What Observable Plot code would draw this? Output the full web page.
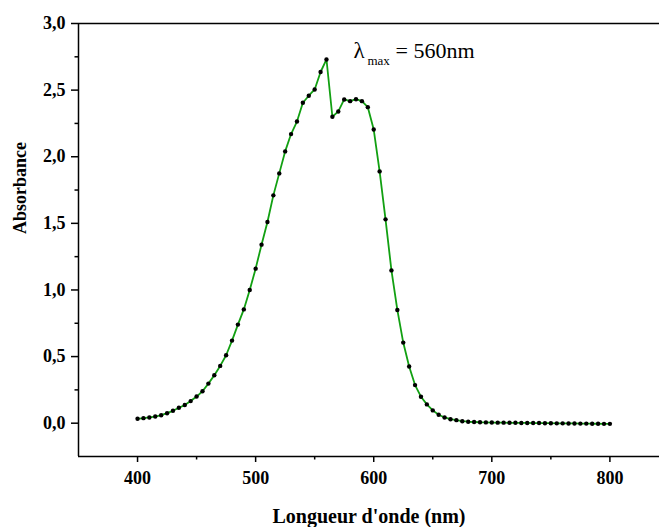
<!DOCTYPE html>
<html><head><meta charset="utf-8">
<script src="https://cdn.jsdelivr.net/npm/d3@7"></script>
<script src="https://cdn.jsdelivr.net/npm/@observablehq/plot@0.6"></script>
<style>body{margin:0;background:#fff} svg{display:block} svg text{font-family:"Liberation Serif","Times New Roman",serif}</style>
</head><body><div id="chart"></div>
<script>
const wavelength = [400,405,410,415,420,425,430,435,440,445,450,455,460,465,470,475,480,485,490,495,
  500,505,510,515,520,525,530,535,540,545,550,555,560,565,570,575,580,585,590,595,
  600,605,610,615,620,625,630,635,640,645,650,655,660,665,670,675,680,685,690,695,
  700,705,710,715,720,725,730,735,740,745,750,755,760,765,770,775,780,785,790,795,800];
const absorbance = [0.033,0.038,0.043,0.050,0.060,0.075,0.093,0.116,0.136,0.166,0.200,0.240,0.297,0.360,0.430,0.510,0.620,0.740,0.854,1.000,
  1.160,1.340,1.510,1.710,1.875,2.040,2.170,2.264,2.405,2.458,2.505,2.636,2.730,2.300,2.340,2.430,2.417,2.432,2.417,2.372,
  2.204,1.890,1.530,1.147,0.850,0.605,0.425,0.286,0.199,0.141,0.096,0.063,0.043,0.030,0.023,0.015,0.011,0.009,0.007,0.006,
  0.005,0.004,0.004,0.003,0.003,0.002,0.002,0.001,0.001,0.000,0.000,-0.001,-0.001,-0.002,-0.002,-0.003,-0.003,-0.004,-0.004,-0.005,-0.005];
const xTicks = [400,500,600,700,800];
const xMinorTicks = [450,550,650,750];
const yTicks = [0,0.5,1,1.5,2,2.5,3];
const yMinorTicks = [0.25,0.75,1.25,1.75,2.25,2.75];
const xTitle = "Longueur d'onde (nm)";
const yTitle = "Absorbance";
const peakWavelength = 560;
const peakAbsorbance = 2.73;

const data = wavelength.map((w, i) => ({w, a: absorbance[i]}));
const font = "Liberation Serif";
const fmt = d => d.toFixed(1).replace(".", ",");

const chart = Plot.plot({
  width: 659, height: 527,
  marginLeft: 78, marginTop: 23, marginBottom: 71, marginRight: 0,
  style: {fontFamily: font, background: "#fff", overflow: "visible"},
  x: {domain: [350, 842]},
  y: {domain: [-0.25, 3]},
  marks: [
    Plot.ruleX([350], {stroke: "#000", strokeWidth: 1.5}),
    Plot.ruleY([-0.25], {stroke: "#000", strokeWidth: 1.5}),
    Plot.ruleY([3], {stroke: "#000", strokeWidth: 1.5}),
    Plot.axisX({ticks: xTicks, tickSize: 6, tickPadding: 9, strokeWidth: 1.5, tickFormat: d => String(d), fontFamily: font, fontSize: 18, fontWeight: "bold", label: null}),
    Plot.axisX({ticks: xMinorTicks, tickSize: 3.5, strokeWidth: 1.5, text: null, label: null}),
    Plot.axisY({ticks: yTicks, tickSize: 7, tickPadding: 6, strokeWidth: 1.5, tickFormat: fmt, fontFamily: font, fontSize: 18, fontWeight: "bold", label: null}),
    Plot.axisY({ticks: yMinorTicks, tickSize: 3.5, strokeWidth: 1.5, text: null, label: null}),
    Plot.line(data, {x: "w", y: "a", stroke: "#12a012", strokeWidth: 1.8}),
    Plot.dot(data, {x: "w", y: "a", r: 2.2, fill: "#000", stroke: "none"}),
    Plot.text([xTitle], {frameAnchor: "bottom", lineAnchor: "bottom", dy: 66, fontFamily: font, fontSize: 20, fontWeight: "bold", fill: "#000"}),
    Plot.text([yTitle], {frameAnchor: "left", lineAnchor: "bottom", rotate: -90, dx: -53, dy: -6, fontFamily: font, fontSize: 18, fontWeight: "bold", fill: "#000"}),
    Plot.text(["λ"], {x: [peakWavelength], y: [peakAbsorbance], textAnchor: "start", lineAnchor: "bottom", dx: 27, dy: -1, fontFamily: font, fontSize: 23, fill: "#000"}),
    Plot.text(["max"], {x: [peakWavelength], y: [peakAbsorbance], textAnchor: "start", lineAnchor: "bottom", dx: 41, dy: 6, fontFamily: font, fontSize: 13, fill: "#000"}),
    Plot.text(["= " + peakWavelength + "nm"], {x: [peakWavelength], y: [peakAbsorbance], textAnchor: "start", lineAnchor: "bottom", dx: 69, dy: -1, fontFamily: font, fontSize: 22, fill: "#000"})
  ]
});
document.getElementById("chart").appendChild(chart);
</script>
</body></html>
